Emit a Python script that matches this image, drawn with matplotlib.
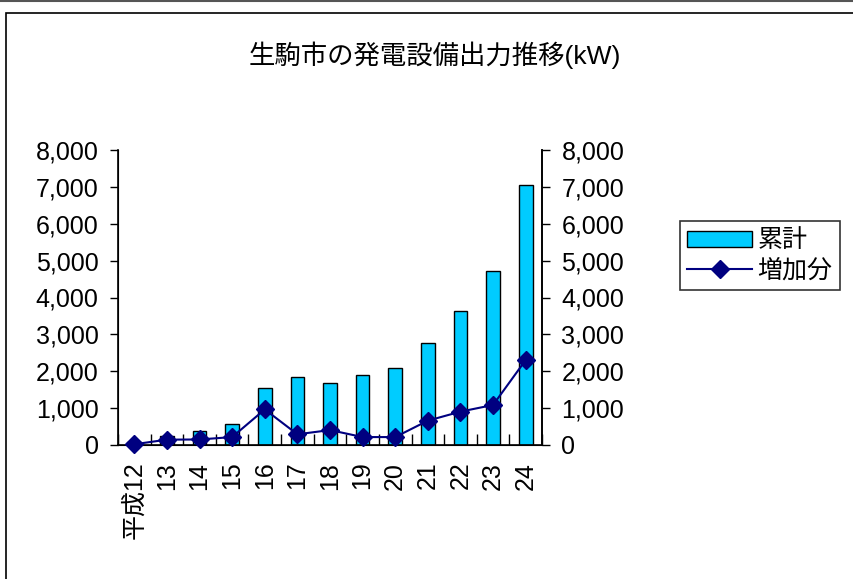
import matplotlib
matplotlib.use("Agg")
import matplotlib.pyplot as plt
import numpy as np
from matplotlib.patches import Rectangle
from matplotlib.lines import Line2D

plt.rcParams['font.family'] = ['Liberation Sans', 'Noto Sans CJK JP', 'DejaVu Sans']

categories = ['平成12', '13', '14', '15', '16', '17', '18', '19', '20', '21', '22', '23', '24']
cumulative = [90, 245, 390, 580, 1545, 1835, 1690, 1890, 2080, 2775, 3645, 4710, 7050]
increase = [20, 145, 150, 215, 965, 290, 405, 215, 215, 660, 905, 1085, 2305]
yticks = [0, 1000, 2000, 3000, 4000, 5000, 6000, 7000, 8000]
title = '生駒市の発電設備出力推移(kW)'

W, H = 854, 579
fig = plt.figure(figsize=(W/100, H/100), dpi=100)

# outer frame
fig.add_artist(Line2D([0, 1], [1 - 1/H, 1 - 1/H], transform=fig.transFigure, color='#555555', lw=1.5))
fig.add_artist(Rectangle((6/W, -0.05), 1.0, 1 - 13/H + 0.05, transform=fig.transFigure,
                         fill=False, edgecolor='black', lw=1.2))

fs = 18
ax = fig.add_axes([118/W, 1 - 445/H, (542-118)/W, (445-150)/H])
x = np.arange(len(categories))
ax.bar(x, cumulative, width=0.42, color='#00CCFF', edgecolor='black', linewidth=1.0, zorder=2)
ax.set_xlim(-0.5, len(categories) - 0.5)
ax.set_ylim(0, 8000)
ax.set_yticks(yticks)
ax.set_yticklabels([f'{v:,}' for v in yticks], fontsize=fs)
ax.tick_params(axis='y', direction='out', length=6, width=1, pad=8)
ax.spines['top'].set_visible(False)
ax.spines['left'].set_linewidth(1.2)
ax.spines['bottom'].set_linewidth(1.2)
ax.spines['right'].set_linewidth(1.2)

# category separator ticks (inside, pointing up)
ax.set_xticks(x)
ax.set_xticklabels(categories, rotation=90, fontsize=fs, va='top', ha='center')
ax.tick_params(axis='x', length=0, pad=12)
ax.set_xticks(np.arange(-0.5, len(categories), 1.0), minor=True)
ax.tick_params(axis='x', which='minor', direction='in', length=8, width=1)

ax2 = ax.twinx()
ax2.set_ylim(0, 8000)
ax2.set_yticks(yticks)
ax2.set_yticklabels([f'{v:,}' for v in yticks], fontsize=fs)
ax2.tick_params(axis='y', direction='out', length=6, width=1, pad=8)
ax2.spines['top'].set_visible(False)
ax2.spines['right'].set_linewidth(1.2)
ax2.plot(x, increase, color='#000080', lw=1.5, marker='D', markersize=9,
         markerfacecolor='#000080', markeredgecolor='#000080', clip_on=False, zorder=3)

fig.text(435/W, 1 - 55/H, title, ha='center', va='center', fontsize=19)

# legend
leg_handles = [Rectangle((0, 0), 1, 1, facecolor='#00CCFF', edgecolor='black', lw=1.0),
               Line2D([], [], color='#000080', lw=1.5, marker='D', markersize=9)]
leg = fig.legend(leg_handles, ['累計', '増加分'], loc='upper left',
                 bbox_to_anchor=(680/W, 1 - 221/H), fontsize=fs, frameon=True,
                 fancybox=False, edgecolor='black', borderpad=0.3, labelspacing=0.25,
                 handlelength=2.6, handleheight=0.6, handletextpad=0.2, borderaxespad=0)
leg.get_frame().set_linewidth(1.2)

fig.savefig('out.png', dpi=100)
